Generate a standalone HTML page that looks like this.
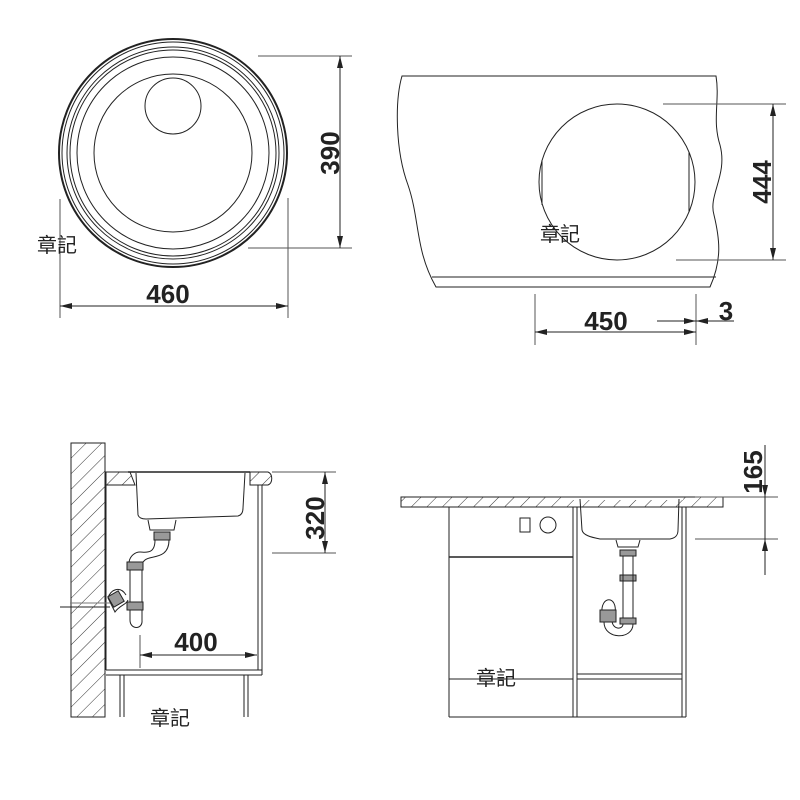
<!DOCTYPE html>
<html><head><meta charset="utf-8"><style>
html,body{margin:0;padding:0;background:#fff;}
svg{display:block}
.t{font-family:"Liberation Sans",Arial,sans-serif;font-weight:bold;font-size:26px;fill:#222}
.c{font-family:"Liberation Sans","Noto Sans CJK TC",sans-serif;font-size:20px;fill:#222}
</style></head><body>
<svg width="800" height="800" viewBox="0 0 800 800" xmlns="http://www.w3.org/2000/svg">
<defs>
<pattern id="h" width="11" height="11" patternUnits="userSpaceOnUse" patternTransform="rotate(45)">
<line x1="0" y1="0" x2="0" y2="11" stroke="#333" stroke-width="1"/></pattern>
<marker id="a" markerWidth="12" markerHeight="6" refX="12" refY="3" orient="auto" markerUnits="userSpaceOnUse">
<path d="M0,0 L12,3 L0,6 z" fill="#222"/></marker>
</defs>
<g fill="none" stroke="#222" stroke-width="1">
<!-- top-left round sink -->
<circle cx="173" cy="153" r="114" stroke-width="2"/>
<circle cx="173" cy="153" r="111"/>
<circle cx="173" cy="153" r="106"/>
<circle cx="173" cy="153" r="103"/>
<circle cx="173" cy="153" r="96"/>
<circle cx="173" cy="153" r="79"/>
<circle cx="173" cy="106" r="28"/>
<line x1="258" y1="56" x2="352" y2="56" stroke="#555"/>
<line x1="248" y1="248" x2="352" y2="248" stroke="#555"/>
<line x1="340" y1="56" x2="340" y2="248" marker-end="url(#a)"/>
<line x1="340" y1="248" x2="340" y2="56" marker-end="url(#a)"/>
<line x1="60" y1="199" x2="60" y2="318" stroke="#555"/>
<line x1="288" y1="198" x2="288" y2="318" stroke="#555"/>
<line x1="60" y1="306" x2="288" y2="306" marker-end="url(#a)"/>
<line x1="288" y1="306" x2="60" y2="306" marker-end="url(#a)"/>

<!-- top-right -->
<path d="M402,76 L716,76 C720,100 712,120 720,145 C728,175 708,195 714,215 C720,240 722,260 710,287 L436,287 C415,250 420,220 408,185 C395,150 395,100 402,76 Z"/>
<line x1="432" y1="277" x2="716" y2="277"/>
<circle cx="617" cy="182" r="78"/>
<line x1="689" y1="152" x2="689" y2="212"/>
<line x1="542" y1="160" x2="542" y2="205"/>
<line x1="663" y1="104" x2="786" y2="104" stroke="#555"/>
<line x1="676" y1="260" x2="786" y2="260" stroke="#555"/>
<line x1="773" y1="260" x2="773" y2="104" marker-end="url(#a)"/>
<line x1="773" y1="104" x2="773" y2="260" marker-end="url(#a)"/>
<line x1="535" y1="294" x2="535" y2="345" stroke="#555"/>
<line x1="696" y1="294" x2="696" y2="345" stroke="#555"/>
<line x1="696" y1="332" x2="535" y2="332" marker-end="url(#a)"/>
<line x1="535" y1="332" x2="696" y2="332" marker-end="url(#a)"/>
<line x1="657" y1="321" x2="696" y2="321" marker-end="url(#a)"/>
<line x1="734" y1="321" x2="696" y2="321" marker-end="url(#a)"/>

<!-- bottom-left -->
<rect x="71" y="443" width="34" height="274" fill="url(#h)"/>
<path d="M106,472 L130,472 L135,485 L106,485 Z" fill="url(#h)"/>
<path d="M250,472 L268,472 C273,474 273,483 268,485 L250,485 Z" fill="url(#h)"/>
<line x1="128" y1="472" x2="250" y2="472" stroke-width="1.5"/>
<path d="M136,473 L138,515 C139,518 142,519 146,519 L238,516 C242,515 243,512 243,508 L245,473"/>
<line x1="106" y1="485" x2="106" y2="670"/>
<line x1="258" y1="485" x2="258" y2="670"/>
<line x1="262" y1="485" x2="262" y2="675"/>
<line x1="106" y1="670" x2="262" y2="670"/>
<line x1="106" y1="675" x2="262" y2="675"/>
<line x1="120" y1="675" x2="120" y2="717"/><line x1="124" y1="675" x2="124" y2="717"/>
<line x1="244" y1="675" x2="244" y2="717"/><line x1="248" y1="675" x2="248" y2="717"/>
<path d="M148,520 L150,530 L174,530 L176,520"/>
<rect x="154" y="532" width="16" height="8" fill="#999"/>
<path d="M155,540 C155,555 145,552 140,552 C135,552 130,556 129,562 M169,540 C169,560 150,555 145,560 C142,563 142,563 142,565"/>
<rect x="127" y="562" width="16" height="8" fill="#999"/>
<path d="M130,570 L130,620 C130,630 143,630 142,620 L142,570"/>
<rect x="127" y="602" width="16" height="8" fill="#999"/>
<path d="M126,595 C120,585 110,590 108,598 L115,612 C120,605 126,605 128,600"/>
<rect x="110" y="593" width="12" height="12" fill="#999" transform="rotate(-30 116 599)"/>
<line x1="60" y1="607" x2="110" y2="607"/>
<line x1="70" y1="603" x2="110" y2="603" stroke="#777"/>
<line x1="272" y1="472" x2="336" y2="472" stroke="#555"/>
<line x1="272" y1="553" x2="336" y2="553" stroke="#555"/>
<line x1="325" y1="553" x2="325" y2="472" marker-end="url(#a)"/>
<line x1="325" y1="472" x2="325" y2="553" marker-end="url(#a)"/>
<line x1="140" y1="635" x2="140" y2="668" stroke="#555"/>
<line x1="257" y1="655" x2="140" y2="655" marker-end="url(#a)"/>
<line x1="140" y1="655" x2="257" y2="655" marker-end="url(#a)"/>

<!-- bottom-right -->
<rect x="401" y="497" width="322" height="10" fill="url(#h)"/>
<rect x="573" y="497" width="110" height="3" fill="#fff" stroke="none"/>
<line x1="573" y1="497" x2="685" y2="497"/>
<path d="M580,499 L582,530 C583,535 590,537 600,539 L670,539 C676,538 678,535 678,530 L679,499"/>
<line x1="449" y1="507" x2="449" y2="717"/>
<line x1="573" y1="507" x2="573" y2="717"/>
<line x1="577" y1="507" x2="577" y2="717"/>
<line x1="682" y1="507" x2="682" y2="717"/>
<line x1="686" y1="507" x2="686" y2="717"/>
<line x1="449" y1="557" x2="573" y2="557" stroke-width="1.5"/>
<line x1="449" y1="679" x2="573" y2="679"/>
<line x1="577" y1="674" x2="682" y2="674"/>
<line x1="577" y1="679" x2="682" y2="679"/>
<line x1="449" y1="717" x2="686" y2="717"/>
<rect x="520" y="518" width="10" height="14"/>
<circle cx="548" cy="525" r="8"/>
<path d="M616,540 L618,547 L638,547 L640,540"/>
<rect x="620" y="550" width="16" height="6" fill="#999"/>
<rect x="620" y="575" width="16" height="6" fill="#999"/>
<rect x="620" y="618" width="16" height="6" fill="#999"/>
<line x1="623" y1="556" x2="623" y2="618"/><line x1="633" y1="556" x2="633" y2="618"/>
<path d="M604,622 C604,640 633,640 633,624 M612,620 C612,630 623,630 623,624"/>
<path d="M602,614 C600,595 618,595 615,614"/>
<rect x="600" y="610" width="16" height="12" fill="#999"/>
<line x1="695" y1="497" x2="778" y2="497" stroke="#555"/>
<line x1="695" y1="539" x2="778" y2="539" stroke="#555"/>
<line x1="765" y1="445" x2="765" y2="575"/>
<line x1="765" y1="480" x2="765" y2="497" marker-end="url(#a)"/>
<line x1="765" y1="556" x2="765" y2="539" marker-end="url(#a)"/>
</g>
<text class="t" x="168" y="303" text-anchor="middle">460</text>
<text class="t" transform="translate(339,153) rotate(-90)" text-anchor="middle">390</text>
<text class="t" transform="translate(771,182) rotate(-90)" text-anchor="middle">444</text>
<text class="t" x="606" y="330" text-anchor="middle">450</text>
<text class="t" x="726" y="320" text-anchor="middle">3</text>
<text class="t" transform="translate(324,518) rotate(-90)" text-anchor="middle">320</text>
<text class="t" x="196" y="651" text-anchor="middle">400</text>
<text class="t" transform="translate(762,472) rotate(-90)" text-anchor="middle">165</text>
<text class="c" x="37" y="252">章記</text>
<text class="c" x="540" y="241">章記</text>
<text class="c" x="150" y="725">章記</text>
<text class="c" x="476" y="685">章記</text>
</svg>
</body></html>
